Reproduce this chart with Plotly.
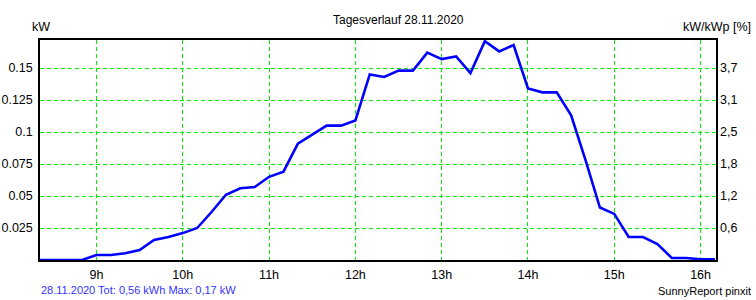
import plotly.graph_objects as go

# Time in decimal hours (10-minute samples)
times = [8 + 20/60 + i/6 for i in range(48)]
power_kw = [0.0, 0.0, 0.0, 0.0, 0.0039, 0.0039, 0.0052, 0.0078, 0.0156, 0.018,
            0.021, 0.025, 0.0375, 0.051, 0.056, 0.057, 0.065, 0.069, 0.091, 0.098,
            0.105, 0.105, 0.109, 0.145, 0.143, 0.148, 0.148, 0.162, 0.157, 0.159,
            0.146, 0.171, 0.163, 0.168, 0.134, 0.131, 0.131, 0.113, 0.078, 0.041,
            0.036, 0.018, 0.018, 0.0125, 0.0016, 0.0016, 0.0005, 0.0005]
n = min(len(times), len(power_kw))
times = times[:n]
power_kw = power_kw[:n]

hour_ticks = [9, 10, 11, 12, 13, 14, 15, 16]
hour_labels = ["9h", "10h", "11h", "12h", "13h", "14h", "15h", "16h"]
kw_ticks = [0.025, 0.05, 0.075, 0.1, 0.125, 0.15]
kw_labels = ["0.025", "0.05", "0.075", "0.1", "0.125", "0.15"]
pct_labels = ["0,6", "1,2", "1,8", "2,5", "3,1", "3,7"]

x_range = [8 + 20/60 + 0.012, 16 + 10/60 + 0.012]
y_range = [0, 0.1719]

FONT = "Liberation Sans, Arial, sans-serif"

fig = go.Figure()
fig.add_trace(go.Scatter(x=times, y=power_kw, mode="lines",
                         line=dict(color="#0000ff", width=2.6),
                         hoverinfo="skip", showlegend=False))
# invisible trace on the right axis so it renders
fig.add_trace(go.Scatter(x=[times[0]], y=[0], yaxis="y2", mode="markers",
                         marker=dict(opacity=0), showlegend=False, hoverinfo="skip"))

grid = dict(showgrid=True, gridcolor="#00ee00", gridwidth=1, griddash="4px,3px")

fig.update_layout(
    width=756, height=300,
    margin=dict(l=40, r=40, t=40, b=40, autoexpand=False),
    paper_bgcolor="white", plot_bgcolor="white",
    font=dict(family=FONT, size=12, color="#000000"),
    xaxis=dict(range=x_range, tickvals=hour_ticks, ticktext=hour_labels,
               showline=True, linecolor="black", linewidth=1.5, mirror=True,
               ticks="", zeroline=False, tickfont=dict(size=12.5), ticklabelstandoff=2,
               automargin=False, **grid),
    yaxis=dict(range=y_range, tickvals=kw_ticks, ticktext=kw_labels,
               showline=True, linecolor="black", linewidth=1.5, mirror=True,
               ticks="", zeroline=False, tickfont=dict(size=12.5), ticklabelstandoff=3,
               automargin=False, **grid),
    yaxis2=dict(range=y_range, tickvals=kw_ticks, ticktext=pct_labels,
                overlaying="y", side="right", showgrid=False, zeroline=False,
                ticks="", tickfont=dict(size=12.5), showline=False, ticklabelstandoff=3,
                automargin=False),
    annotations=[
        dict(text="Tagesverlauf 28.11.2020", xref="paper", yref="paper",
             x=(398 - 40) / 676, y=(260 - 20) / 220, xanchor="center", yanchor="middle",
             showarrow=False, font=dict(size=12)),
        dict(text="kW", xref="paper", yref="paper",
             x=(30 - 40) / 676, y=(260 - 27) / 220, xanchor="left", yanchor="middle",
             showarrow=False, font=dict(size=12.5)),
        dict(text="kW/kWp [%]", xref="paper", yref="paper",
             x=(753 - 40) / 676, y=(260 - 27) / 220, xanchor="right", yanchor="middle",
             showarrow=False, font=dict(size=12.5)),
        dict(text="28.11.2020 Tot: 0,56 kWh Max: 0,17 kW", xref="paper", yref="paper",
             x=(39 - 40) / 676, y=(260 - 290) / 220, xanchor="left", yanchor="middle",
             showarrow=False, font=dict(size=11, color="#3333ff")),
        dict(text="SunnyReport pinxit", xref="paper", yref="paper",
             x=(753 - 40) / 676, y=(260 - 291) / 220, xanchor="right", yanchor="middle",
             showarrow=False, font=dict(size=11)),
    ],
)

fig.write_html("out.html")
